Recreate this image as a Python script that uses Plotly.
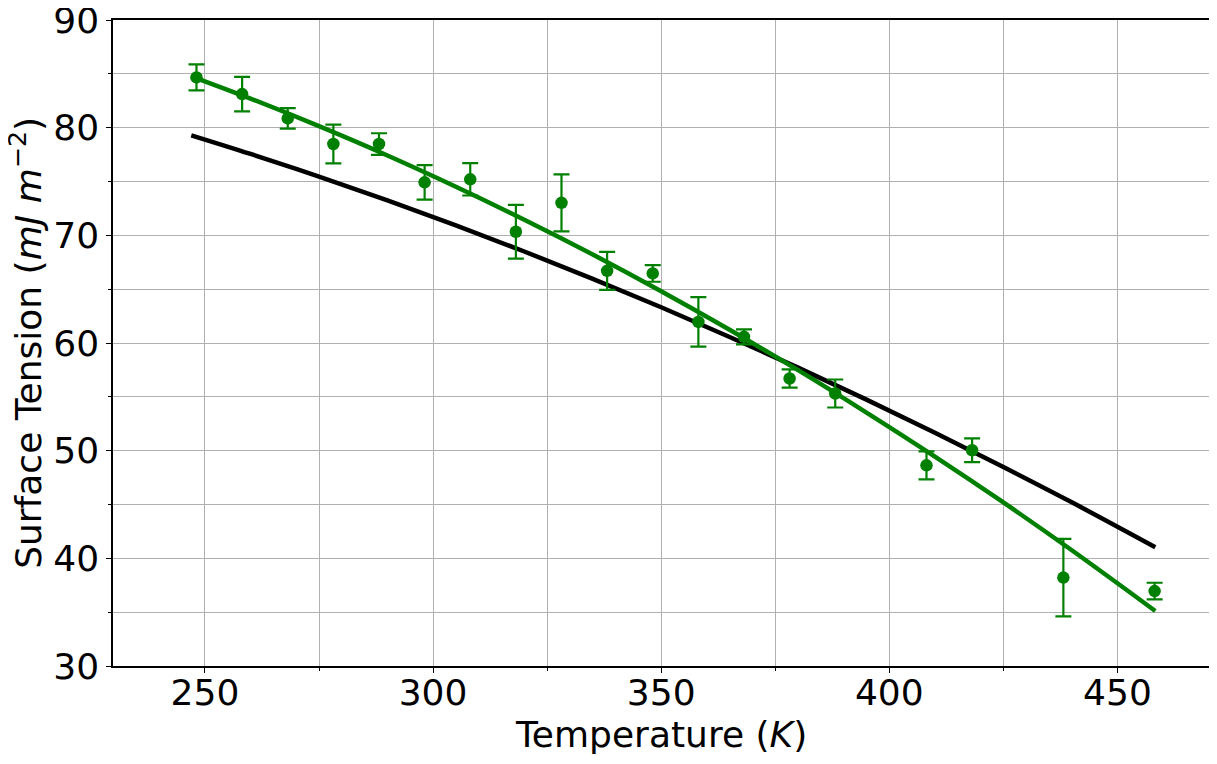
import plotly.graph_objects as go

# Measured data (temperature in K, surface tension in mJ m^-2, error)
temp_k = [248.15, 258.15, 268.15, 278.15, 288.15, 298.15, 308.15, 318.15, 328.15,
          338.15, 348.15, 358.15, 368.15, 378.15, 388.15, 408.15, 418.15, 438.15, 458.15]
tension = [84.67, 83.12, 80.86, 78.48, 78.48, 74.92, 75.20, 70.33, 73.02,
           66.70, 66.46, 61.96, 60.57, 56.70, 55.31, 48.64, 50.04, 38.21, 36.96]
tension_err = [1.2, 1.6, 0.95, 1.8, 1.0, 1.6, 1.5, 2.5, 2.65,
               1.76, 0.77, 2.3, 0.7, 0.85, 1.3, 1.3, 1.1, 3.6, 0.77]

# Curves
curve_t = [247, 260, 275, 290, 305, 320, 335, 350, 365, 380, 395, 410, 425, 440, 458.3]
model_black = [79.29, 77.56, 75.46, 73.24, 70.92, 68.50, 65.96, 63.32, 60.56,
               57.71, 54.74, 51.66, 48.48, 45.20, 41.03]
fit_green = [84.77, 82.70, 80.14, 77.42, 74.52, 71.45, 68.22, 64.81, 61.23,
             57.48, 53.54, 49.45, 45.19, 40.75, 35.11]

x_ticks = [250, 300, 350, 400, 450]
y_ticks = [30, 40, 50, 60, 70, 80, 90]

GREEN = "#008000"
FONT = "DejaVu Sans"
GRID = "#b0b0b0"

fig = go.Figure()
fig.add_trace(go.Scatter(x=curve_t, y=model_black, mode="lines",
                         line=dict(color="black", width=4.5, shape="spline"),
                         showlegend=False))
fig.add_trace(go.Scatter(x=curve_t, y=fit_green, mode="lines",
                         line=dict(color=GREEN, width=4.5, shape="spline"),
                         showlegend=False))
fig.add_trace(go.Scatter(x=temp_k, y=tension, mode="markers",
                         marker=dict(color=GREEN, size=12.5),
                         error_y=dict(type="data", array=tension_err, visible=True,
                                      color=GREEN, thickness=2.2, width=8),
                         showlegend=False))

axis_common = dict(
    showline=True, linecolor="black", linewidth=1.5, mirror=True,
    ticks="outside", ticklen=5, tickwidth=1.3, tickcolor="black",
    showgrid=True, gridcolor=GRID, gridwidth=1.1,
    zeroline=False, automargin=False, ticklabeloverflow="allow",
    tickfont=dict(family=FONT, size=36, color="black"),
)

fig.update_xaxes(
    range=[229.85, 470.07], tickvals=x_ticks, ticktext=[str(v) for v in x_ticks],
    ticklabelstandoff=-11,
    minor=dict(dtick=25, tick0=0, showgrid=True, gridcolor=GRID, gridwidth=1.1,
               ticks="outside", ticklen=3, tickcolor="black", tickwidth=1.1),
    **axis_common,
)
fig.update_yaxes(
    range=[30, 90], tickvals=y_ticks, ticktext=[str(v) for v in y_ticks],
    minor=dict(dtick=5, tick0=0, showgrid=True, gridcolor=GRID, gridwidth=1.1,
               ticks="outside", ticklen=3, tickcolor="black", tickwidth=1.1),
    **axis_common,
)

fig.add_annotation(text="Temperature (<i>K</i>)", xref="paper", yref="paper",
                   x=0.5, y=-0.1058, xanchor="center", yanchor="middle",
                   showarrow=False, font=dict(family=FONT, size=36, color="black"))
fig.add_annotation(text="Surface Tension (<i>mJ m</i><sup>−2</sup>)", xref="paper", yref="paper",
                   x=-0.0795, y=0.5, xanchor="center", yanchor="middle", textangle=-90,
                   showarrow=False, font=dict(family=FONT, size=36, color="black"))

# The page body adds an 8px offset, so the figure is 8px smaller with left/top margins reduced.
fig.update_layout(
    width=1209, height=756,
    margin=dict(l=105, r=8, t=12, b=98),
    plot_bgcolor="white", paper_bgcolor="white",
    font=dict(family=FONT, color="black"),
)

fig.write_html("out.html")
